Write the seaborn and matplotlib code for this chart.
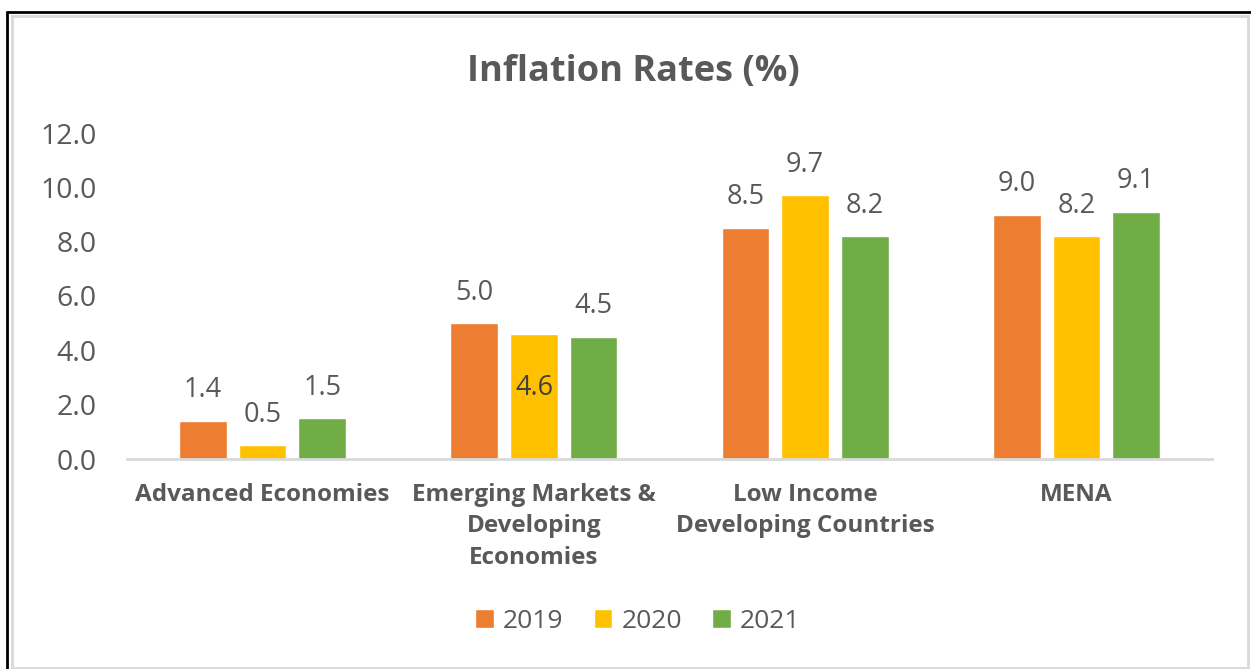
import pandas as pd
import seaborn as sns
import matplotlib.pyplot as plt
from matplotlib.lines import Line2D
from matplotlib.patches import Rectangle

# data
regions = ['Advanced Economies', 'Emerging Markets &\nDeveloping\nEconomies',
           'Low Income\nDeveloping Countries', 'MENA']
years = ['2019', '2020', '2021']
rates_2019 = [1.4, 5.0, 8.5, 9.0]
rates_2020 = [0.5, 4.6, 9.7, 8.2]
rates_2021 = [1.5, 4.5, 8.2, 9.1]
colors = ['#ED7D31', '#FFC000', '#70AD47']
yticks = [0, 2, 4, 6, 8, 10, 12]

rows = []
for year, vals in zip(years, [rates_2019, rates_2020, rates_2021]):
    for region, v in zip(regions, vals):
        rows.append({'region': region, 'year': year, 'rate': v})
df = pd.DataFrame(rows)

sns.set_style('white')
plt.rcParams['font.family'] = ['Open Sans', 'DejaVu Sans']
grey = '#595959'

fig = plt.figure(figsize=(12.51, 6.69), dpi=100)
ax = fig.add_axes([127 / 1251, 1 - 459 / 669, (1212 - 127) / 1251, (459 - 133) / 669])

sns.barplot(data=df, x='region', y='rate', hue='year', palette=colors,
            saturation=1, width=0.66, gap=0.2, ax=ax, legend=True)

ax.set_ylim(0, 12)
ax.set_xlim(-0.5, 3.5)
ax.set_yticks(yticks)
ax.set_yticklabels([f'{t:.1f}' for t in yticks], fontsize=20.5, color=grey)
ax.tick_params(axis='y', length=0, pad=22)
ax.tick_params(axis='x', length=0, pad=17)
for lbl in ax.get_xticklabels():
    lbl.set_fontsize(17.5)
    lbl.set_fontweight('bold')
    lbl.set_color(grey)
    lbl.set_linespacing(1.42)
ax.set_xlabel('')
ax.set_ylabel('')
for side in ['top', 'right', 'left']:
    ax.spines[side].set_visible(False)
ax.spines['bottom'].set_color('#D9D9D9')
ax.spines['bottom'].set_linewidth(2)

# value labels (the 2020 EMDE label sits inside its bar in the original)
for i, cont in enumerate(ax.containers):
    vals = [rates_2019, rates_2020, rates_2021][i]
    if i == 1:
        top = ['' if j == 1 else f'{v:.1f}' for j, v in enumerate(vals)]
        inside = [f'{v:.1f}' if j == 1 else '' for j, v in enumerate(vals)]
        ax.bar_label(cont, labels=top, padding=12, fontsize=19.5, color=grey)
        ax.bar_label(cont, labels=inside, label_type='center', fontsize=19.5,
                     color='#404040', padding=6)
    else:
        ax.bar_label(cont, labels=[f'{v:.1f}' for v in vals], padding=12,
                     fontsize=19.5, color=grey)

handles, labels = ax.get_legend_handles_labels()
ax.get_legend().remove()
fig.legend(handles, labels, loc='center', bbox_to_anchor=(638 / 1251, 1 - 621 / 669),
           ncol=3, frameon=False, fontsize=19, handlelength=0.7, handleheight=0.7,
           handletextpad=0.35, columnspacing=1.15, labelcolor=grey)

fig.text(633 / 1251, 1 - 72 / 669, 'Inflation Rates (%)', ha='center', va='center',
         fontsize=26, fontweight='bold', color=grey)

# screenshot frame
fig.patches.append(Rectangle((12 / 1251, 0.002), 1236 / 1251, 1 - 17 / 669,
                             transform=fig.transFigure, fill=False,
                             edgecolor='#D9D9D9', linewidth=2))
fig.lines.append(Line2D([7 / 1251, 7 / 1251], [0, 1 - 12 / 669],
                        transform=fig.transFigure, color='black', linewidth=2))
fig.lines.append(Line2D([7 / 1251, 1], [1 - 12 / 669, 1 - 12 / 669],
                        transform=fig.transFigure, color='black', linewidth=2))

fig.savefig('out.png', dpi=100)
